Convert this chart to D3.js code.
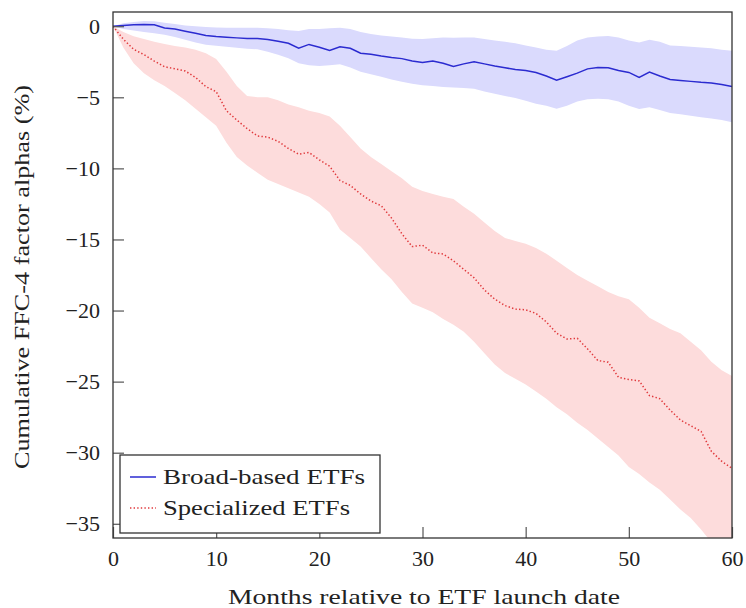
<!DOCTYPE html>
<html lang="en">
<head>
<meta charset="UTF-8">
<title>Cumulative FFC-4 factor alphas</title>
<script src="https://d3js.org/d3.v7.min.js"></script>
<style>
  body { margin: 0; background: #fff; }
  svg { display: block; font-family: "Liberation Serif", "DejaVu Serif", serif; }
</style>
</head>
<body>
<svg width="746" height="608"></svg>
<script>
// months after launch
const months = [0,1,2,3,4,5,6,7,8,9,10,11,12,13,14,15,16,17,18,19,20,
  21,22,23,24,25,26,27,28,29,30,31,32,33,34,35,36,37,38,39,40,
  41,42,43,44,45,46,47,48,49,50,51,52,53,54,55,56,57,58,59,60];

// broad-based ETFs: mean and band
const broad = [0,0.05,0.1,0.12,0.1,-0.12,-0.2,-0.35,-0.5,-0.65,-0.72,
  -0.77,-0.82,-0.86,-0.86,-0.93,-1.05,-1.2,-1.55,-1.28,-1.48,
  -1.7,-1.45,-1.55,-1.9,-1.98,-2.1,-2.2,-2.28,-2.45,-2.55,
  -2.44,-2.6,-2.83,-2.65,-2.5,-2.65,-2.8,-2.92,-3.05,-3.12,
  -3.25,-3.5,-3.8,-3.55,-3.3,-3.0,-2.9,-2.92,-3.12,-3.25,
  -3.6,-3.22,-3.5,-3.75,-3.82,-3.88,-3.95,-4.0,-4.1,-4.24];
const broadHi = [0,0.2,0.3,0.37,0.35,0.25,0.15,0.05,0,-0.05,-0.09,
  -0.1,-0.1,-0.1,-0.1,-0.15,-0.2,-0.28,-0.33,-0.2,-0.2,
  -0.15,-0.1,-0.2,-0.4,-0.55,-0.65,-0.72,-0.8,-0.88,-0.9,
  -0.85,-0.8,-0.82,-0.8,-0.8,-0.9,-1.0,-1.1,-1.2,-1.35,
  -1.5,-1.65,-1.73,-1.4,-1.0,-0.8,-0.72,-0.68,-0.8,-1.0,
  -1.15,-0.95,-1.1,-1.35,-1.4,-1.45,-1.5,-1.55,-1.65,-1.73];
const broadLo = [0,-0.2,-0.3,-0.4,-0.5,-0.6,-0.75,-0.95,-1.15,-1.3,-1.38,
  -1.45,-1.52,-1.58,-1.62,-1.8,-2.0,-2.25,-2.6,-2.75,-2.79,
  -2.75,-2.67,-2.9,-3.2,-3.37,-3.55,-3.75,-3.9,-4.05,-4.15,
  -4.2,-4.28,-4.31,-4.35,-4.4,-4.6,-4.75,-4.9,-5.05,-5.25,
  -5.45,-5.6,-5.8,-5.6,-5.3,-5.13,-5.1,-5.13,-5.3,-5.6,
  -5.83,-5.7,-5.9,-6.1,-6.2,-6.3,-6.4,-6.5,-6.6,-6.75];

// specialized ETFs: mean and band
const spec = [0,-0.91,-1.62,-2.0,-2.45,-2.85,-3.0,-3.15,-3.6,-4.25,-4.6,
  -5.95,-6.6,-7.2,-7.72,-7.8,-8.1,-8.6,-9.0,-8.88,-9.4,
  -9.85,-10.85,-11.2,-11.8,-12.3,-12.63,-13.5,-14.6,-15.5,-15.4,
  -15.95,-16.02,-16.5,-17.1,-17.7,-18.55,-19.2,-19.65,-19.9,-19.95,
  -20.2,-20.8,-21.6,-22.0,-21.95,-22.7,-23.52,-23.63,-24.7,-24.85,
  -24.95,-25.98,-26.2,-27.0,-27.7,-28.1,-28.5,-29.9,-30.6,-31.1];
const specHi = [0,-0.4,-0.7,-0.9,-1.1,-1.25,-1.4,-1.5,-1.65,-1.9,-2.3,
  -3.2,-4.2,-4.9,-5.0,-5.0,-5.2,-5.5,-5.7,-5.95,-6.1,
  -6.35,-7.0,-7.8,-8.6,-9.2,-9.7,-10.2,-10.7,-11.3,-11.6,
  -11.8,-12.0,-12.16,-12.7,-13.2,-13.8,-14.4,-14.9,-15.1,-15.3,
  -15.6,-16.0,-16.5,-17.0,-17.5,-17.9,-18.3,-18.7,-19.0,-19.2,
  -19.8,-20.5,-20.9,-21.3,-21.6,-22.2,-22.8,-23.6,-24.2,-24.6];
const specLo = [0,-1.5,-2.6,-3.3,-3.8,-4.2,-4.7,-5.2,-5.8,-6.4,-7.0,
  -8.2,-9.2,-9.8,-10.3,-10.8,-11.1,-11.4,-11.7,-12.0,-12.5,
  -13.1,-14.3,-14.9,-15.5,-16.3,-17.1,-17.8,-18.7,-19.5,-19.8,
  -20.12,-20.6,-21.0,-21.5,-22.2,-23.0,-23.8,-24.4,-24.8,-25.2,
  -25.7,-26.2,-26.8,-27.3,-27.9,-28.4,-29.0,-29.6,-30.2,-31.0,
  -31.5,-32.1,-32.6,-33.3,-34.0,-34.6,-35.4,-36.3,-37.0,-37.5];

const xTicks = [0, 10, 20, 30, 40, 50, 60];
const yTicks = [0, -5, -10, -15, -20, -25, -30, -35];
const seriesNames = ["Broad-based ETFs", "Specialized ETFs"];

const serif = "'Liberation Serif', 'DejaVu Serif', serif";
const svg = d3.select("svg");
const plotL = 113, plotR = 732, plotT = 12, plotB = 538;

const x = d3.scaleLinear().domain([0, 60]).range([plotL, plotR]);
const y = d3.scaleLinear().domain([-36, 1]).range([plotB, plotT]);

svg.append("defs").append("clipPath").attr("id", "plot")
  .append("rect")
  .attr("x", plotL).attr("y", plotT)
  .attr("width", plotR - plotL).attr("height", plotB - plotT);

const plot = svg.append("g").attr("clip-path", "url(#plot)");

const band = (hi, lo) => d3.area()
  .x((d, i) => x(months[i]))
  .y0((d, i) => y(lo[i]))
  .y1((d, i) => y(hi[i]));
const line = vals => d3.line()
  .x((d, i) => x(months[i]))
  .y((d, i) => y(vals[i]));

plot.append("path").datum(months)
  .attr("d", band(broadHi, broadLo))
  .attr("fill", "#dadafd");
plot.append("path").datum(months)
  .attr("d", band(specHi, specLo))
  .attr("fill", "#fddcdc");

plot.append("path").datum(months)
  .attr("d", line(broad))
  .attr("fill", "none")
  .attr("stroke", "#2b2bd0")
  .attr("stroke-width", 1.5);
plot.append("path").datum(months)
  .attr("d", line(spec))
  .attr("fill", "none")
  .attr("stroke", "#e0393c")
  .attr("stroke-width", 1.5)
  .attr("stroke-dasharray", "1.4 2.2");

// axes, ticks pointing inward
svg.append("g")
  .attr("transform", `translate(0,${plotB})`)
  .call(d3.axisBottom(x).tickValues(xTicks).tickSize(-11).tickPadding(12).tickFormat(d3.format("d")))
  .call(g => g.select(".domain").remove())
  .attr("font-family", serif)
  .attr("font-size", 22);

svg.append("g")
  .attr("transform", `translate(${plotL},0)`)
  .call(d3.axisLeft(y).tickValues(yTicks).tickSize(-11).tickPadding(13).tickFormat(d3.format("d")))
  .call(g => g.select(".domain").remove())
  .attr("font-family", serif)
  .attr("font-size", 22);

svg.selectAll(".tick line").attr("stroke", "#555").attr("stroke-width", 1.2);
svg.selectAll(".tick text").attr("fill", "#222");

svg.append("rect")
  .attr("x", plotL).attr("y", plotT)
  .attr("width", plotR - plotL).attr("height", plotB - plotT)
  .attr("fill", "none")
  .attr("stroke", "#333")
  .attr("stroke-width", 1.3);

// axis titles
svg.append("text")
  .attr("x", 424).attr("y", 604)
  .attr("text-anchor", "middle")
  .attr("font-family", serif)
  .attr("font-size", 22)
  .attr("fill", "#222")
  .attr("textLength", 392)
  .attr("lengthAdjust", "spacingAndGlyphs")
  .text("Months relative to ETF launch date");

svg.append("text")
  .attr("transform", "translate(29,277) rotate(-90)")
  .attr("text-anchor", "middle")
  .attr("font-family", serif)
  .attr("font-size", 22)
  .attr("fill", "#222")
  .attr("textLength", 384)
  .attr("lengthAdjust", "spacingAndGlyphs")
  .text("Cumulative FFC-4 factor alphas (%)");

// legend
const legend = svg.append("g");
legend.append("rect")
  .attr("x", 120).attr("y", 455)
  .attr("width", 260).attr("height", 78)
  .attr("fill", "#fff")
  .attr("stroke", "#333")
  .attr("stroke-width", 1.3);

const legendRows = [
  { name: seriesNames[0], color: "#2b2bd0", dash: null, y: 477, w: 202 },
  { name: seriesNames[1], color: "#e0393c", dash: "1.4 2.2", y: 508, w: 187 }
];
legendRows.forEach(r => {
  legend.append("line")
    .attr("x1", 130).attr("x2", 156)
    .attr("y1", r.y).attr("y2", r.y)
    .attr("stroke", r.color)
    .attr("stroke-width", 1.5)
    .attr("stroke-dasharray", r.dash);
  legend.append("text")
    .attr("x", 163).attr("y", r.y + 7)
    .attr("font-family", serif)
    .attr("font-size", 22)
    .attr("fill", "#222")
    .attr("textLength", r.w)
    .attr("lengthAdjust", "spacingAndGlyphs")
    .text(r.name);
});
</script>
</body>
</html>
